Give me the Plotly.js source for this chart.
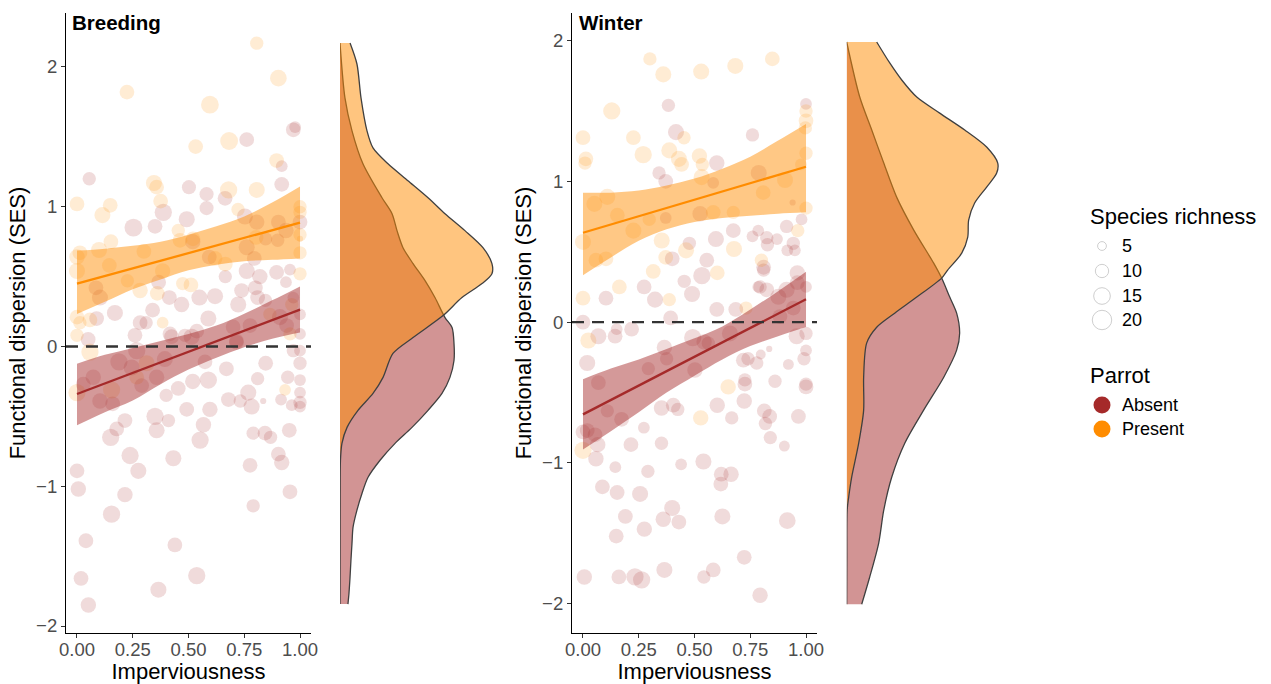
<!DOCTYPE html>
<html>
<head>
<meta charset="utf-8">
<script src="https://cdn.plot.ly/plotly-3.0.1.min.js"></script>
<style>html,body{margin:0;padding:0;background:#fff}#chart{width:1271px;height:684px}</style>
</head>
<body>
<div id="chart"></div>
<script>
// ---------------- DATA ----------------
const xTicks = [0, 0.25, 0.5, 0.75, 1];
const xTickText = ['0.00', '0.25', '0.50', '0.75', '1.00'];
const yTicks = [-2, -1, 0, 1, 2];
const panelNames = ['Breeding', 'Winter'];
const groupNames = ['Absent', 'Present'];
const sizeLegendVals = [5, 10, 15, 20];

// Breeding, parrot present
const bPresX = [0.806,0.903,0.224,0.596,0.532,0.682,0.895,0,0.149,0.114,
 0.345,0.357,0.375,0.68,0.806,1.0,1.0,0.722,0.454,0.152,
 0,0.013,0.099,0.30,0.462,0.52,0,0.145,0.384,0.474,
 0.511,0.226,0.283,0.36,0.619,0.665,0.803,1.0,1.0,1.0,
 1.0,0,0.013,0.058,0,0.384,0.865,0.963,0.058,0,
 0.155,0.312,0.268,0.933,0.955];
const bPresY = [2.17,1.92,1.82,1.73,1.43,1.47,1.33,1.02,1.01,0.94,
 1.17,1.14,1.04,1.12,1.12,1.0,0.96,0.98,0.83,0.75,
 0.64,0.67,0.69,0.68,0.76,0.77,0.54,0.58,0.54,0.45,
 0.44,0.47,0.40,0.38,0.63,0.59,0.78,0.80,0.67,0.52,
 0.77,0.21,0.17,0.19,0.08,0.17,0.23,0.30,-0.04,-0.33,
 -0.31,-0.12,-0.22,-0.31,0.09];
const bPresN = [10,15,12,17,12,17,12,12,12,14,
 14,12,12,16,14,10,10,10,10,12,
 13,12,14,12,12,12,14,12,13,10,
 12,10,13,12,12,12,12,10,10,10,
 3,12,10,12,10,8,10,10,16,16,
 16,14,12,8,10];

// Breeding, parrot absent
const bAbsX = [0.97,0.978,0.761,0.055,0.918,0.918,0.502,0.581,0.664,0.581,
 0.387,0.492,0.253,0.35,0.753,0.806,0.903,0.937,1.0,0.519,
 0.593,0.761,0.795,0.846,0.90,0.665,0.761,0.82,0.895,0.955,
 0.937,0.085,0.103,0.366,0.414,0.469,0.549,0.619,0.723,0.738,
 0.80,0.81,0.845,0.17,0.339,0.283,0.31,0.088,0.417,0.484,
 0.537,0.589,0.70,0.715,0.776,0.91,0.94,0.97,1.0,1.0,
 0.05,0.26,0.073,0.028,0.103,0.16,0.188,0.268,0.245,0.29,
 0.357,0.394,0.424,0.40,0.454,0.492,0.519,0.589,0.574,0.596,
 0.567,0.552,0.35,0.357,0.41,0.151,0.178,0.215,0.238,0.275,
 0.432,0,0.006,0.215,0.155,0.04,0.439,0.018,0.537,0.365,
 0.051,0.679,0.732,0.768,0.783,0.835,0.81,0.846,0.843,0.868,
 0.79,0.776,0.79,0.903,0.918,0.955,0.952,0.945,0.915,0.963,
 1.0,1.0,1.0,1.0,1.0,1.0,0.97,0.67,0.715,0.514];
const bAbsY = [1.55,1.57,1.48,1.20,1.29,1.16,1.14,1.09,1.06,0.99,
 0.96,0.91,0.85,0.86,0.93,0.89,0.89,0.83,0.89,0.75,
 0.64,0.71,0.63,0.77,0.76,0.50,0.54,0.50,0.53,0.55,
 0.46,0.42,0.35,0.46,0.35,0.30,0.35,0.36,0.30,0.40,
 0.42,0.35,0.33,0.24,0.26,0.17,0.17,0.20,0.09,0.08,
 0.11,0.20,0.14,0.04,0.15,0.21,0.15,0.35,0.23,0.09,
 0.05,0.08,-0.22,-0.27,-0.39,-0.41,-0.11,-0.03,-0.15,-0.28,
 -0.22,-0.09,0.07,-0.35,-0.30,-0.45,-0.25,-0.24,-0.11,-0.45,
 -0.56,-0.67,-0.50,-0.60,-0.53,-0.65,-0.59,-0.53,-0.78,-0.89,
 -0.80,-0.89,-1.02,-1.06,-1.20,-1.39,-1.42,-1.66,-1.64,-1.74,
 -1.85,-0.38,-0.39,-0.33,-0.43,-0.39,-0.23,-0.12,-0.62,-0.65,
 -0.62,-0.85,-1.14,-0.77,-0.83,-1.04,-0.60,-0.22,-0.38,-0.42,
 -0.40,-0.43,-0.33,-0.24,-0.12,-0.03,-0.03,-0.16,0.03,0.07];
const bAbsN = [12,8,12,10,8,12,11,11,12,11,
 16,14,17,12,14,13,12,13,12,13,
 12,14,12,10,10,10,14,13,12,8,
 8,12,14,12,12,13,14,14,14,12,
 12,12,10,14,12,12,10,12,12,10,
 12,14,12,12,12,14,12,8,8,8,
 12,12,13,12,13,12,16,16,14,12,
 13,14,12,10,12,12,13,16,12,13,
 13,16,16,14,10,16,12,12,16,14,
 14,12,13,13,16,12,12,12,16,14,
 13,12,10,14,14,3,10,12,12,10,
 10,12,10,12,13,12,12,10,8,8,
 10,8,8,8,10,8,10,12,12,14];

// Winter, parrot present
const wPresX = [0.30,0.36,0.53,0.683,0.849,0.129,0,0.013,0.009,0.226,
 0.27,0.387,0.43,0.442,0.453,0.522,0.535,0.532,1.0,1.0,
 0.997,1.0,0.906,0.977,0.109,0.051,0.226,0.297,0.154,0,
 0.058,0.103,0.353,0.371,0.462,0.584,0.674,0.677,0.602,0.80,
 0.808,0.963,1.0,0.315,0.387,0,0.163,0.731,0.024,0,
 0.651,0.528];
const wPresY = [1.87,1.76,1.78,1.82,1.87,1.50,1.31,1.16,1.13,1.31,
 1.19,1.22,1.16,1.12,1.31,1.18,1.12,1.03,1.50,1.43,
 1.38,1.20,1.01,1.12,0.89,0.84,0.65,0.73,0.76,0.57,
 0.44,0.45,0.58,0.46,0.51,0.78,0.78,0.52,0.35,0.44,
 0.92,0.65,0.81,0.36,0.16,0.17,0.25,0.10,-0.13,-0.91,
 -0.46,-0.68];
const wPresN = [10,14,14,14,12,16,12,12,10,12,
 16,14,14,12,10,13,10,14,10,12,
 10,10,14,8,14,14,14,10,12,14,
 12,12,14,12,14,12,10,14,12,10,
 12,10,10,12,10,12,12,10,14,16,
 13,13];

// Winter, parrot absent
const wAbsX = [0.383,1.0,0.417,0.76,0.341,0.371,0.60,0.788,0.584,0.525,
 0.371,0.674,0.596,0.76,0.786,0.824,0.827,0.87,0.913,0.943,
 0.916,0.95,0.98,0.94,0.477,0.555,0.533,0.40,0.454,0.489,
 0.323,0.274,0.103,0.218,0.393,0.60,0.685,0.81,0.81,0.786,
 0.961,0.961,0.913,0.876,0.824,0.794,1.0,0.943,0.883,0,
 0.069,0.144,0.151,0.659,1.0,0.019,0.365,0.375,0.492,0.543,
 0.562,0.502,0.293,0.069,0.109,0.173,0,0.019,0.054,0.066,
 0.058,0.215,0.273,0.352,0.352,0.405,0.425,0.44,0.54,0.602,
 0.667,0.723,0.726,0.726,0.719,0.74,0.779,0.861,0.797,0.835,
 0.813,0.837,0.818,0.84,0.903,0.921,0.966,0.991,1.0,1.0,
 1.0,0.958,0.145,0.291,0.087,0.153,0.256,0.19,0.40,0.36,
 0.43,0.275,0.149,0.62,0.664,0.618,0.625,0.916,0.723,0.584,
 0.542,0.365,0.233,0.263,0.161,0.006,0.794];
const wAbsY = [1.54,1.55,1.35,1.33,1.06,1.0,1.13,1.06,0.99,0.77,
 0.74,0.65,0.59,0.61,0.65,0.60,0.55,0.59,0.68,0.56,
 0.51,0.51,0.73,0.85,0.56,0.44,0.33,0.45,0.29,0.20,
 0.16,0.25,0.17,-0.05,0.03,0.09,0.09,0.39,0.37,0.25,
 0.35,0.28,0.23,0.18,0.23,0.25,0.25,0.10,0.04,0,
 -0.10,-0.10,-0.05,-0.08,-0.08,-0.29,-0.18,-0.26,-0.11,-0.14,
 -0.15,-0.34,-0.33,-0.43,-0.63,-0.69,-0.78,-0.77,-0.80,-0.87,
 -0.97,-0.87,-0.75,-0.86,-0.61,-0.59,-0.62,-1.01,-0.99,-0.59,
 -0.68,-0.56,-0.44,-0.41,-0.27,-0.26,-0.29,-0.42,-0.23,-0.19,
 -0.63,-0.67,-0.72,-0.82,-0.88,-0.30,-0.67,-0.26,-0.2,-0.44,
 -0.46,-0.10,-1.03,-1.06,-1.17,-1.21,-1.22,-1.38,-1.32,-1.40,
 -1.42,-1.47,-1.52,-1.08,-1.08,-1.15,-1.38,-1.41,-1.67,-1.76,
 -1.81,-1.76,-1.81,-1.83,-1.81,-1.81,-1.94];
const wAbsN = [10,8,14,10,10,12,13,14,8,13,
 8,12,14,8,8,10,10,8,10,10,
 8,8,8,3,10,12,16,12,10,14,
 14,12,12,12,12,12,12,12,10,8,
 13,12,14,14,12,10,8,12,12,12,
 14,12,8,14,10,14,13,10,16,13,
 10,13,10,12,10,12,12,12,12,13,
 13,12,8,10,13,12,10,8,14,13,
 10,13,12,10,12,10,10,10,6,3,
 12,12,10,10,7,7,12,10,8,10,
 12,14,8,10,12,12,14,12,14,13,
 12,13,12,12,13,12,14,15,12,12,
 10,14,16,16,12,13,13];

// Linear fits (imperviousness 0 -> 1) and 95% confidence bands
const fitX = [0, 1];
const bandX = [0, 0.125, 0.25, 0.375, 0.5, 0.625, 0.75, 0.875, 1];
const bPresFit = [0.45, 0.886];
const bPresUpper = [0.686, 0.70, 0.72, 0.75, 0.80, 0.86, 0.93, 1.03, 1.145];
const bPresLower = [0.233, 0.32, 0.41, 0.48, 0.545, 0.585, 0.61, 0.62, 0.63];
const bAbsFit = [-0.34, 0.264];
const bAbsUpper = [-0.124, -0.06, -0.01, 0.04, 0.09, 0.15, 0.235, 0.33, 0.43];
const bAbsLower = [-0.564, -0.47, -0.386, -0.27, -0.165, -0.08, -0.005, 0.055, 0.10];
const wPresFit = [0.635, 1.104];
const wPresUpper = [0.919, 0.92, 0.935, 0.97, 1.02, 1.09, 1.175, 1.29, 1.408];
const wPresLower = [0.334, 0.46, 0.578, 0.66, 0.712, 0.74, 0.755, 0.77, 0.78];
const wAbsFit = [-0.655, 0.163];
const wAbsUpper = [-0.405, -0.33, -0.265, -0.19, -0.115, -0.03, 0.09, 0.22, 0.358];
const wAbsLower = [-0.905, -0.775, -0.64, -0.50, -0.38, -0.265, -0.17, -0.10, -0.035];

// Marginal densities of functional dispersion
const bDensPresY = [2.171,2.021,1.779,1.543,1.421,1.307,1.186,1.064,0.95,0.829,0.707,0.593,0.521,0.45,0.35,0.221,0.064,-0.05,-0.221,-0.336,-0.457,-0.579,-0.693,-0.814,-1.1,-1.843];
const bDensPres = [0.067,0.113,0.14,0.18,0.22,0.32,0.453,0.587,0.70,0.833,0.953,1.013,1.013,0.947,0.813,0.687,0.487,0.353,0.287,0.22,0.12,0.047,0.013,0.003,0.001,0];
const bDensAbsY = [2.171,1.779,1.543,1.307,1.064,0.95,0.829,0.707,0.593,0.471,0.35,0.207,0.136,0.021,-0.1,-0.221,-0.336,-0.457,-0.579,-0.693,-0.814,-0.936,-1.05,-1.171,-1.293,-1.407,-1.529,-1.65,-1.764,-1.843];
const bDensAbs = [0,0.033,0.08,0.153,0.28,0.347,0.38,0.42,0.487,0.567,0.633,0.70,0.747,0.76,0.76,0.733,0.68,0.587,0.48,0.367,0.267,0.187,0.147,0.113,0.087,0.08,0.073,0.067,0.06,0.053];
const wDensPresY = [1.99,1.841,1.72,1.599,1.485,1.365,1.244,1.13,1.059,0.959,0.846,0.725,0.604,0.49,0.37,0.313,0.178,0.064,-0.036,-0.149,-0.391,-0.625,-0.86,-1.102,-1.244,-1.336,-1.691,-2.004];
const wDensPres = [0.2,0.287,0.367,0.467,0.62,0.787,0.933,1.007,1.0,0.933,0.853,0.813,0.807,0.767,0.673,0.633,0.467,0.32,0.20,0.133,0.113,0.113,0.08,0.033,0.013,0.003,0.001,0];
const wDensAbsY = [1.99,1.599,1.365,1.13,0.888,0.654,0.419,0.313,0.178,0.064,-0.078,-0.199,-0.391,-0.625,-0.86,-1.102,-1.336,-1.571,-1.812,-2.004];
const wDensAbs = [0,0.087,0.167,0.247,0.333,0.447,0.58,0.633,0.687,0.733,0.753,0.733,0.647,0.513,0.387,0.30,0.247,0.213,0.153,0.10];

// ---------------- STYLE ----------------
const W = 1271, H = 684;
const FONT = 'Liberation Sans, Arial, sans-serif';
const COL = {Absent: '#A52A2A', Present: '#FF8C00'};
const RGB = {Absent: '165,42,42', Present: '255,140,0'};
const fx = p => p / W;
const fy = p => 1 - p / H;
const diam = n => Math.sqrt(Math.max(20 * n - 22, 9));

function pointsTrace(xs, ys, ns, g, xa, ya) {
  return {type: 'scatter', mode: 'markers', x: xs, y: ys, xaxis: xa, yaxis: ya,
    name: g, showlegend: false, hoverinfo: 'x+y+text', text: ns.map(n => 'Richness ' + n),
    marker: {color: 'rgba(' + RGB[g] + ',0.24)', size: ns.map(diam), sizemode: 'diameter', line: {width: 0}}};
}
function bandTraces(lo, hi, g, xa, ya) {
  return [
    {type: 'scatter', mode: 'lines', x: bandX, y: lo, xaxis: xa, yaxis: ya, showlegend: false,
      hoverinfo: 'skip', line: {width: 0, shape: 'spline', color: 'rgba(0,0,0,0)'}},
    {type: 'scatter', mode: 'lines', x: bandX, y: hi, xaxis: xa, yaxis: ya, showlegend: false,
      hoverinfo: 'skip', fill: 'tonexty', fillcolor: 'rgba(' + RGB[g] + ',0.48)',
      line: {width: 0, shape: 'spline', color: 'rgba(0,0,0,0)'}}
  ];
}
function fitTrace(vals, g, xa, ya) {
  return {type: 'scatter', mode: 'lines', x: fitX, y: vals, xaxis: xa, yaxis: ya, showlegend: false,
    name: g, line: {color: COL[g], width: 2.3}};
}
function densTrace(d, ys, g, xa, ya) {
  return {type: 'scatter', mode: 'lines', x: d, y: ys, xaxis: xa, yaxis: ya, showlegend: false,
    name: g, fill: 'tozerox', fillcolor: 'rgba(' + RGB[g] + ',0.5)', hoverinfo: 'y',
    line: {color: '#404040', width: 1.3, shape: 'spline', smoothing: 0.8}};
}

const traces = [
  pointsTrace(bAbsX, bAbsY, bAbsN, 'Absent', 'x', 'y'),
  pointsTrace(bPresX, bPresY, bPresN, 'Present', 'x', 'y'),
  ...bandTraces(bAbsLower, bAbsUpper, 'Absent', 'x', 'y'),
  ...bandTraces(bPresLower, bPresUpper, 'Present', 'x', 'y'),
  fitTrace(bAbsFit, 'Absent', 'x', 'y'),
  fitTrace(bPresFit, 'Present', 'x', 'y'),
  densTrace(bDensAbs, bDensAbsY, 'Absent', 'x2', 'y'),
  densTrace(bDensPres, bDensPresY, 'Present', 'x2', 'y'),

  pointsTrace(wAbsX, wAbsY, wAbsN, 'Absent', 'x3', 'y2'),
  pointsTrace(wPresX, wPresY, wPresN, 'Present', 'x3', 'y2'),
  ...bandTraces(wAbsLower, wAbsUpper, 'Absent', 'x3', 'y2'),
  ...bandTraces(wPresLower, wPresUpper, 'Present', 'x3', 'y2'),
  fitTrace(wAbsFit, 'Absent', 'x3', 'y2'),
  fitTrace(wPresFit, 'Present', 'x3', 'y2'),
  densTrace(wDensAbs, wDensAbsY, 'Absent', 'x4', 'y2'),
  densTrace(wDensPres, wDensPresY, 'Present', 'x4', 'y2')
];

function xMain(domain, range, anchor) {
  return {domain, range, anchor, tickmode: 'array', tickvals: xTicks, ticktext: xTickText,
    showline: true, linecolor: '#000', linewidth: 1.2, ticks: 'outside', ticklen: 4, tickwidth: 1,
    tickcolor: '#333', tickfont: {size: 18.5, color: '#4D4D4D', family: FONT}, ticklabelstandoff: -4,
    showgrid: false, zeroline: false, fixedrange: true,
    title: {text: 'Imperviousness', font: {size: 22, color: '#000', family: FONT}, standoff: 6}};
}
function yMain(domain, range, anchor) {
  return {domain, range, anchor, tickmode: 'array', tickvals: yTicks,
    showline: true, linecolor: '#000', linewidth: 1.2, ticks: 'outside', ticklen: 4, tickwidth: 1,
    tickcolor: '#333', tickfont: {size: 18.5, color: '#4D4D4D', family: FONT},
    showgrid: false, zeroline: false, fixedrange: true,
    title: {text: 'Functional dispersion (SES)', font: {size: 22, color: '#000', family: FONT}, standoff: 4}};
}
function xDens(domain, anchor) {
  return {domain, range: [0, 1.2], anchor, visible: false, showgrid: false, zeroline: false, fixedrange: true};
}

const yDom = [fy(633), fy(13)];
const layout = {
  width: W, height: H, margin: {l: 0, r: 0, t: 0, b: 0},
  paper_bgcolor: '#fff', plot_bgcolor: 'rgba(0,0,0,0)',
  font: {family: FONT, color: '#000'}, showlegend: false,
  xaxis: xMain([fx(66), fx(311)], [-0.0493, 1.0493], 'y'),
  yaxis: yMain(yDom, [-2.05, 2.386], 'x'),
  xaxis2: xDens([fx(340), fx(520)], 'y'),
  xaxis3: xMain([fx(572), fx(817)], [-0.0493, 1.0493], 'y2'),
  yaxis2: yMain(yDom, [-2.208, 2.196], 'x3'),
  xaxis4: xDens([fx(846.7), fx(1026.7)], 'y2'),
  shapes: [], annotations: []
};

// zero reference lines
[['x domain', 'y'], ['x3 domain', 'y2']].forEach(([xr, yr]) => {
  layout.shapes.push({type: 'line', xref: xr, yref: yr, x0: 0, x1: 1, y0: 0, y1: 0, layer: 'above',
    line: {color: '#333', width: 2.4, dash: '12px,8px'}});
});

// panel titles
[[70, panelNames[0]], [577, panelNames[1]]].forEach(([px, t]) => {
  layout.annotations.push({xref: 'paper', yref: 'paper', x: fx(px), y: fy(22), xanchor: 'left', yanchor: 'middle',
    text: '<b>' + t + '</b>', showarrow: false, font: {size: 20.5, color: '#000', family: FONT}});
});

// legend: species richness
const legX = 1088, legSymX = 1102, legLabX = 1120;
layout.annotations.push({xref: 'paper', yref: 'paper', x: fx(legX), y: fy(216), xanchor: 'left', yanchor: 'middle',
  text: 'Species richness', showarrow: false, font: {size: 22, color: '#000', family: FONT}});
const sizeRowY = [246, 271, 296, 320];
sizeLegendVals.forEach((v, i) => {
  const r = diam(v) / 2;
  layout.shapes.push({type: 'circle', xref: 'paper', yref: 'paper', xsizemode: 'pixel', ysizemode: 'pixel',
    xanchor: fx(legSymX), yanchor: fy(sizeRowY[i]), x0: -r, x1: r, y0: -r, y1: r,
    line: {color: '#CFCFCF', width: 1}, fillcolor: 'rgba(255,255,255,0)'});
  layout.annotations.push({xref: 'paper', yref: 'paper', x: fx(legLabX), y: fy(sizeRowY[i]), xanchor: 'left', yanchor: 'middle',
    text: String(v), showarrow: false, font: {size: 18, color: '#000', family: FONT}});
});
// legend: parrot
layout.annotations.push({xref: 'paper', yref: 'paper', x: fx(legX), y: fy(375), xanchor: 'left', yanchor: 'middle',
  text: 'Parrot', showarrow: false, font: {size: 22, color: '#000', family: FONT}});
const grpRowY = [405, 429];
groupNames.forEach((g, i) => {
  const r = 8.5;
  layout.shapes.push({type: 'circle', xref: 'paper', yref: 'paper', xsizemode: 'pixel', ysizemode: 'pixel',
    xanchor: fx(legSymX), yanchor: fy(grpRowY[i]), x0: -r, x1: r, y0: -r, y1: r,
    line: {width: 0}, fillcolor: COL[g]});
  layout.annotations.push({xref: 'paper', yref: 'paper', x: fx(legLabX), y: fy(grpRowY[i]), xanchor: 'left', yanchor: 'middle',
    text: g, showarrow: false, font: {size: 18, color: '#000', family: FONT}});
});

Plotly.newPlot('chart', traces, layout, {displayModeBar: false, responsive: false});
</script>
</body>
</html>
